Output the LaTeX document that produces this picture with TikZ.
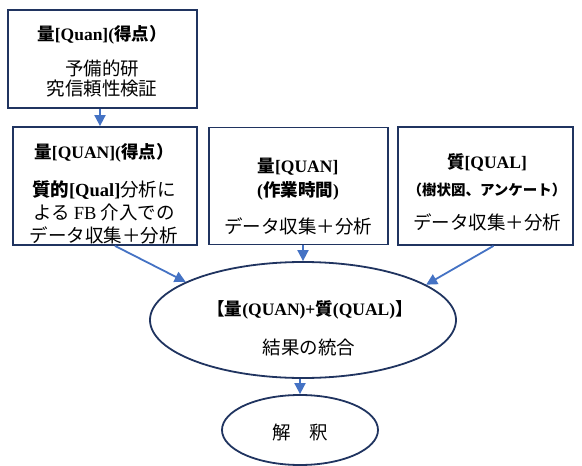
\documentclass[tikz,border=0pt]{standalone}
\usepackage{fontspec}
\setmainfont{Noto Sans CJK JP}
\newfontfamily\lat{Liberation Serif}
\usetikzlibrary{arrows.meta,shapes.geometric}
\definecolor{navy}{RGB}{32,52,96}
\definecolor{arrowblue}{RGB}{68,114,196}
\begin{document}
\begin{tikzpicture}[x=1pt,y=-1pt,
  box/.style={draw=navy, line width=1.8pt, fill=white, inner sep=0, rectangle},
  oval/.style={draw=navy, line width=1.8pt, fill=white, inner sep=0, ellipse},
  txt/.style={inner sep=0, font=\fontsize{18.5}{22}\selectfont},
  ttl/.style={inner sep=0, font=\fontsize{17.5}{21}\selectfont\bfseries},
  arr/.style={draw=arrowblue, line width=1.8pt, -{Triangle[length=11pt,width=11pt]}}
]
\useasboundingbox (0,0) rectangle (582,466);
\fill[white] (0,0) rectangle (582,466);

% boxes
\node[box, minimum width=189pt, minimum height=98pt] (b1) at (102.5,59) {};
\node[box, minimum width=184pt, minimum height=118pt] (b2) at (105,186) {};
\node[box, minimum width=179pt, minimum height=117pt] (b3) at (298.5,186) {};
\node[box, minimum width=175pt, minimum height=118pt] (b4) at (485.5,186) {};
\node[oval, minimum width=306pt, minimum height=116pt] (e1) at (303,320) {};
\node[oval, minimum width=156pt, minimum height=70pt] (e2) at (300,430) {};

% box 1 text
\node[ttl] (t1a) at (102,35) {量{\lat[Quan](}得点）};
\node[txt] (t1b) at (102,68) {予備的研};
\node[txt] (t1c) at (102,89) {究信頼性検証};

% box 2 text
\node[ttl] (t2a) at (104,153) {量{\lat[QUAN](}得点）};
\node[txt] (t2b) at (104,190) {{\bfseries 質的{\lat[Qual]}}分析に};
\node[txt] (t2c) at (104,212) {よる {\lat FB} 介入での};
\node[txt] (t2d) at (104,235) {データ収集＋分析};

% box 3 text
\node[ttl] (t3a) at (298,167) {量{\lat[QUAN]}};
\node[ttl] (t3b) at (298,191) {{\lat(}作業時間{\lat)}};
\node[txt] (t3c) at (298,226) {データ収集＋分析};

% box 4 text
\node[ttl] (t4a) at (487,162) {質{\lat[QUAL]}};
\node[inner sep=0, font=\fontsize{14.5}{17}\selectfont\bfseries] (t4b) at (487,190) {（樹状図、アンケート）};
\node[txt] (t4c) at (487,222) {データ収集＋分析};

% ellipse texts
\node[ttl] (t5a) at (310,310) {【量{\lat(QUAN)+}質{\lat(QUAL)}】};
\node[txt] (t5b) at (309,348) {結果の統合};
\node[txt] (t6) at (300,432) {解　釈};

% arrows
\draw[arr] (b1.south -| 100,0) -- (b2.north -| 100,0);
\draw[arr] ([xshift=10pt]b2.south) -- (e1.162);
\draw[arr] (b3.south -| e1.north) -- (e1.north);
\draw[arr] ([xshift=8pt]b4.south) -- (e1.16);
\draw[arr] (e1.south -| e2.north) -- (e2.north);
\end{tikzpicture}
\end{document}
